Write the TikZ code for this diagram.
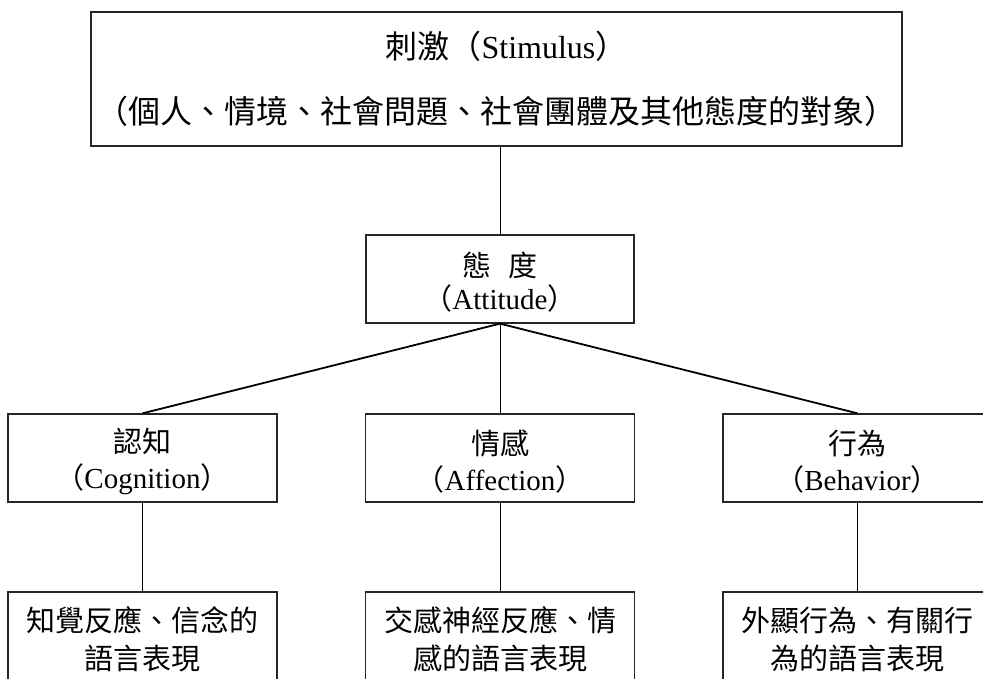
\documentclass[tikz,border=0pt]{standalone}
\usepackage{fontspec}
\setmainfont{Liberation Serif}
\newfontfamily\cjk{Noto Sans CJK TC}
\newcommand\liftline{\rule{0pt}{31pt}}
\tikzset{
  box/.style={draw=black!85, line width=1.3pt, inner sep=0pt, align=center,
    font=\fontsize{29}{36}\selectfont},
  midbox/.style={box, minimum width=269pt, minimum height=88pt},
  lowbox/.style={box, minimum width=269pt, minimum height=88pt,
    font=\fontsize{29}{38}\selectfont},
  conn/.style={draw=black, line width=1pt},
  diag/.style={draw=black, line width=1.8pt},
}
\begin{document}
\begin{tikzpicture}[x=1pt,y=-1pt]
\useasboundingbox (0,0) rectangle (983,678);
% top stimulus box
\node[box, minimum width=811pt, minimum height=134pt,
      font=\fontsize{32}{65}\selectfont] (stim) at (496.5,79)
  {\hspace*{20pt}{\cjk 刺激（}Stimulus{\cjk ）}\\{\cjk （個人、情境、社會問題、社會團體及其他態度的對象）}};
% attitude
\node[box, minimum width=268pt, minimum height=88pt,
      font=\fontsize{29}{33}\selectfont] (att) at (500,279)
  {\liftline{\cjk 態\hspace{18pt}度}\\{\cjk （}Attitude{\cjk ）}};
% three components
\node[midbox] (cog) at (142.5,458) {\liftline{\cjk 認知}\\{\cjk （}Cognition{\cjk ）}};
\node[midbox] (aff) at (500,458) {\liftline{\cjk 情感}\\{\cjk （}Affection{\cjk ）}};
\node[midbox] (beh) at (857.5,458) {\liftline{\cjk 行為}\\{\cjk （}Behavior{\cjk ）}};
% responses
\node[lowbox] (cogr) at (142.5,636) {\liftline{\cjk 知覺反應、信念的}\\{\cjk 語言表現}};
\node[lowbox] (affr) at (500,636) {\liftline{\cjk 交感神經反應、情}\\{\cjk 感的語言表現}};
\node[lowbox] (behr) at (857.5,636) {\liftline{\cjk 外顯行為、有關行}\\{\cjk 為的語言表現}};
% connectors
\draw[conn] (att.north) -- (att.north |- stim.south);
\draw[diag] (att.south) -- (cog.north);
\draw[conn] (att.south) -- (aff.north);
\draw[diag] (att.south) -- (beh.north);
\draw[conn] (cog.south) -- (cogr.north);
\draw[conn] (aff.south) -- (affr.north);
\draw[conn] (beh.south) -- (behr.north);
\end{tikzpicture}
\end{document}
